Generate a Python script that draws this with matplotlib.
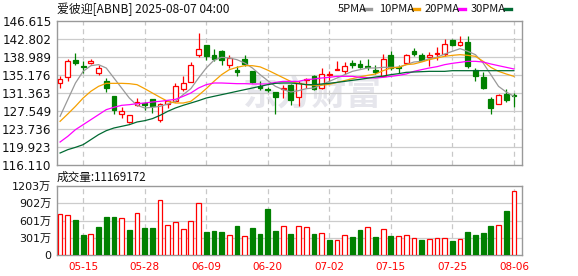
import matplotlib
matplotlib.use('Agg')
import matplotlib.pyplot as plt
from matplotlib.lines import Line2D
from matplotlib.patches import Rectangle

plt.rcParams['font.family'] = ['DejaVu Sans', 'Noto Sans CJK SC']

title = '爱彼迎[ABNB] 2025-08-07 04:00'
vol_title = '成交量:11169172'

# x axis labels (trading day index -> date)
date_pos = [3, 11, 19, 27, 35, 43, 51, 59]
date_labels = ['05-15', '05-28', '06-09', '06-20', '07-02', '07-15', '07-25', '08-06']

# daily candles
opens = [133.48, 134.75, 138.36, 137.08, 137.72, 135.60, 133.84, 130.80, 126.85, 125.20,
         128.82, 129.32, 130.09, 125.72, 129.04, 129.60, 132.28, 133.70, 139.34, 141.60,
         139.34, 140.33, 137.30, 136.31, 138.64, 136.09, 132.92, 132.14, 131.58, 132.20,
         133.00, 130.52, 134.19, 135.04, 132.42, 135.20, 136.31, 135.95, 137.72, 137.51,
         137.08, 136.31, 135.04, 139.48, 136.87, 137.72, 140.19, 139.48, 138.99, 139.70,
         139.70, 142.66, 141.46, 142.24, 136.17, 134.75, 130.16, 129.11, 131.15, 130.87]
highs = [135.04, 138.57, 139.84, 138.07, 138.57, 137.22, 134.54, 130.80, 128.45, 126.70,
         130.38, 129.40, 130.10, 129.25, 129.95, 133.55, 135.04, 138.00, 144.14, 141.60,
         140.68, 140.54, 139.41, 137.01, 139.48, 136.10, 133.84, 132.64, 131.60, 133.00,
         133.30, 133.84, 134.54, 135.25, 136.66, 135.95, 138.21, 137.86, 138.42, 138.42,
         138.57, 137.22, 139.70, 140.33, 137.37, 139.70, 140.90, 139.84, 140.05, 141.04,
         142.80, 142.70, 143.51, 143.37, 136.66, 135.74, 130.45, 131.08, 132.21, 131.37]
lows = [132.42, 133.84, 137.22, 135.60, 137.44, 135.11, 131.51, 126.99, 126.05, 125.10,
        128.54, 127.84, 127.13, 125.15, 128.10, 129.50, 131.72, 133.70, 139.00, 138.40,
        138.07, 137.22, 136.73, 134.90, 137.01, 133.48, 131.93, 131.51, 126.99, 130.40,
        128.90, 128.54, 132.35, 132.07, 132.30, 133.80, 136.20, 135.46, 136.66, 136.66,
        136.17, 135.46, 134.90, 136.31, 135.60, 137.58, 139.13, 138.07, 137.01, 138.42,
        139.27, 141.40, 141.25, 136.66, 133.98, 132.21, 126.99, 128.97, 129.39, 128.33]
closes = [134.40, 138.14, 137.65, 136.94, 138.14, 136.66, 132.42, 127.70, 127.55, 126.60,
          129.46, 128.76, 128.54, 129.04, 129.60, 132.85, 133.55, 137.25, 140.60, 139.13,
          138.64, 138.42, 138.85, 135.88, 137.51, 133.62, 132.35, 131.93, 130.59, 132.40,
          129.95, 133.48, 134.40, 132.21, 135.40, 135.32, 136.45, 137.08, 137.22, 136.94,
          136.87, 135.81, 138.57, 136.73, 136.73, 139.48, 139.63, 138.28, 139.48, 139.84,
          141.81, 141.46, 142.17, 137.10, 134.90, 132.42, 128.12, 130.94, 129.95, 130.66]

# volume in 万 shares, 1 = up day (red), 0 = down day (green)
volumes = [712, 695, 613, 350, 362, 490, 666, 666, 642, 438,
           730, 479, 479, 958, 520, 572, 450, 590, 905, 403,
           415, 403, 345, 508, 327, 473, 368, 806, 420, 502,
           368, 502, 490, 368, 380, 263, 257, 345, 315, 438,
           490, 315, 450, 333, 327, 345, 292, 263, 274, 292,
           292, 245, 274, 403, 350, 385, 508, 520, 771, 1117]
vol_up = [1, 1, 0, 0, 1, 0, 0, 0, 1, 0,
          1, 0, 0, 1, 1, 1, 1, 1, 1, 0,
          0, 0, 1, 0, 1, 0, 0, 0, 0, 1,
          0, 1, 1, 0, 1, 0, 1, 1, 0, 0,
          1, 0, 1, 0, 1, 1, 1, 0, 1, 1,
          1, 0, 1, 0, 0, 0, 0, 1, 0, 1]

# moving averages as drawn on the chart
ma5 = [126.42, 129.95, 133.48, 135.95, 137.15, 137.37, 136.66, 134.54, 132.42, 130.30,
       128.75, 128.19, 128.33, 128.54, 129.03, 129.60, 131.01, 132.28, 134.54, 136.66,
       138.30, 138.92, 138.78, 138.42, 137.72, 136.66, 135.25, 133.98, 132.77, 132.07,
       131.57, 131.86, 132.28, 132.42, 133.13, 133.83, 134.54, 135.25, 135.95, 136.31,
       136.66, 136.66, 136.80, 136.80, 136.80, 137.37, 137.93, 138.07, 138.64, 138.92,
       139.63, 140.19, 140.75, 140.19, 139.48, 137.72, 135.25, 132.77, 131.57, 130.66]
ma10 = [125.36, 126.91, 128.54, 130.30, 131.72, 132.77, 133.41, 133.41, 133.41, 133.34,
        133.13, 132.28, 131.36, 130.45, 129.60, 129.24, 129.24, 129.60, 130.87, 132.28,
        133.83, 135.25, 136.31, 136.80, 137.15, 137.15, 136.90, 136.20, 135.40, 134.60,
        133.80, 133.40, 133.13, 132.99, 133.00, 133.20, 133.60, 134.00, 134.40, 134.80,
        135.10, 135.39, 136.09, 136.66, 136.80, 137.37, 137.51, 137.93, 138.42, 138.78,
        139.13, 139.34, 139.48, 139.34, 139.13, 138.07, 136.80, 135.95, 135.39, 134.89]
ma20 = [120.98, 122.18, 123.60, 124.65, 125.71, 126.77, 127.83, 128.33, 128.75, 128.89,
        129.10, 129.24, 129.46, 129.60, 129.81, 130.02, 130.66, 131.36, 132.42, 133.13,
        133.48, 133.48, 133.41, 133.34, 133.34, 133.27, 133.27, 133.27, 133.62, 133.83,
        133.83, 133.83, 134.19, 134.33, 134.54, 134.68, 134.89, 134.89, 134.89, 134.68,
        134.60, 134.54, 134.68, 134.89, 135.10, 135.39, 135.95, 136.31, 136.66, 136.94,
        137.37, 137.65, 137.86, 138.07, 138.07, 137.93, 137.51, 137.15, 136.80, 136.45]
ma30 = [118.65, 119.36, 119.85, 120.42, 121.48, 122.54, 123.38, 123.95, 124.30, 124.65,
        125.22, 125.50, 125.93, 126.63, 127.48, 128.19, 128.75, 129.24, 129.74, 130.30,
        130.66, 131.01, 131.36, 131.72, 132.07, 132.42, 132.77, 133.13, 133.41, 133.48,
        133.48, 133.34, 133.13, 133.13, 133.27, 133.41, 133.62, 133.83, 134.05, 134.26,
        134.50, 134.75, 134.96, 135.25, 135.46, 135.74, 135.81, 135.88, 135.95, 135.95,
        135.95, 136.09, 136.09, 136.09, 136.09, 136.09, 136.09, 136.09, 136.09, 136.09]

price_ticks = [116.110, 119.923, 123.736, 127.549, 131.363, 135.176, 138.989, 142.802, 146.615]
vol_ticks = [0, 301, 601, 902, 1203]
vol_tick_labels = ['0', '301万', '601万', '902万', '1203万']

ma_list = [('5PMA', ma5, '#999999'), ('10PMA', ma10, '#f5a000'),
           ('20PMA', ma20, '#ff00ff'), ('30PMA', ma30, '#006a32')]

RED = '#ff0000'
GREEN = '#008000'
W, H = 578, 276

fig = plt.figure(figsize=(W / 100, H / 100), dpi=100)
ax = fig.add_axes([57 / W, 1 - 165 / H, 465 / W, 144 / H])
axv = fig.add_axes([57 / W, 1 - 255 / H, 465 / W, 69 / H])

n = len(closes)
bw = 0.62

# watermark
ax.text(0.55, 0.49, '东方财富', transform=ax.transAxes, ha='center', va='center',
        fontsize=25, fontweight='bold', color='#e6e6ec', family='Noto Sans CJK SC', zorder=0)

# candles
for i in range(n):
    o, h, l, c = opens[i], highs[i], lows[i], closes[i]
    top, bot = max(o, c), min(o, c)
    if c >= o:
        ax.vlines(i, top, h, color=RED, lw=0.9, zorder=2)
        ax.vlines(i, l, bot, color=RED, lw=0.9, zorder=2)
        ax.add_patch(Rectangle((i - bw / 2, bot), bw, max(top - bot, 0.08),
                               facecolor='white', edgecolor=RED, lw=0.9, zorder=3))
    else:
        ax.vlines(i, l, h, color=GREEN, lw=0.9, zorder=2)
        ax.add_patch(Rectangle((i - bw / 2, bot), bw, max(top - bot, 0.08),
                               facecolor=GREEN, edgecolor=GREEN, lw=0.9, zorder=3))

for name, vals, col in ma_list:
    ax.plot(range(n), vals, color=col, lw=0.9, zorder=4)

# volume bars
for i in range(n):
    if vol_up[i]:
        axv.bar(i, volumes[i], width=bw, facecolor='white', edgecolor=RED, lw=0.9, zorder=3)
    else:
        axv.bar(i, volumes[i], width=bw, facecolor=GREEN, edgecolor=GREEN, lw=0.9, zorder=3)

for a in (ax, axv):
    a.set_xlim(-0.4, 60.05)
    for s in a.spines.values():
        s.set_color('#999999')
        s.set_linewidth(1.0)
    a.tick_params(length=0)
    for p in date_pos:
        a.axvline(p, color='#c8c8c8', lw=0.9, ls=(0, (4, 3)), zorder=1)

ax.set_ylim(price_ticks[0], price_ticks[-1])
ax.set_yticks(price_ticks)
ax.set_yticklabels(['%.3f' % v for v in price_ticks], fontsize=8.6, color='#111111')
ax.tick_params(axis='y', pad=4)
ax.set_xticks([])
for v in price_ticks[1:-1]:
    ax.axhline(v, color='#cccccc', lw=0.9, zorder=1)

axv.set_ylim(0, vol_ticks[-1])
axv.set_yticks(vol_ticks)
axv.set_yticklabels(vol_tick_labels, fontsize=8, color='#111111')
axv.tick_params(axis='y', pad=4)
axv.set_xticks(date_pos)
axv.set_xticklabels(date_labels, fontsize=7.5, color=RED)
axv.tick_params(axis='x', pad=5)
for v in vol_ticks[1:-1]:
    axv.axhline(v, color='#cccccc', lw=0.9, zorder=1)

# header texts
fig.text(57 / W, 1 - 9 / H, title, ha='left', va='center', fontsize=8.6,
         family=['Noto Sans CJK SC', 'DejaVu Sans'], color='#111111')
fig.text(57 / W, 1 - 177 / H, vol_title, ha='left', va='center', fontsize=8.4,
         family=['Noto Sans CJK SC', 'DejaVu Sans'], color='#111111')

# legend: label then short coloured dash
legend_x = [(338, 364.5), (379, 412.5), (425, 459), (471, 505)]
for (tx, dx), (name, vals, col) in zip(legend_x, ma_list):
    fig.text(tx / W, 1 - 8.5 / H, name, ha='left', va='center', fontsize=8,
             family=['Noto Sans CJK SC', 'DejaVu Sans'], color='#111111')
    fig.add_artist(Line2D([dx / W, (dx + 6) / W], [1 - 9 / H, 1 - 9 / H],
                          transform=fig.transFigure, color=col, lw=2.4))

fig.savefig('out.png', dpi=100)
